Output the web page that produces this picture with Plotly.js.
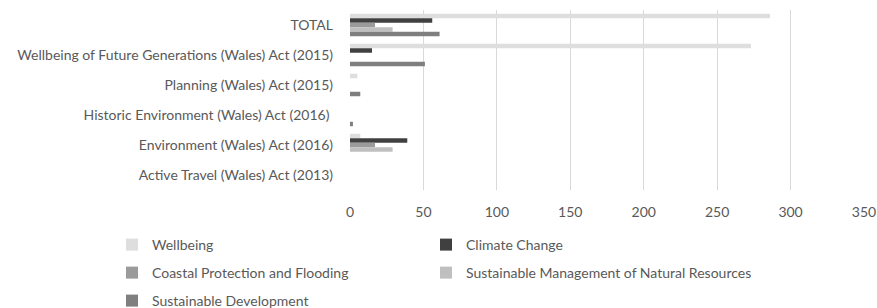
<!DOCTYPE html>
<html>
<head>
<meta charset="utf-8">
<script src="https://cdn.plot.ly/plotly-3.0.1.min.js"></script>
<style>html,body{margin:0;padding:0;background:#fff;}#chart{width:877px;height:308px;}</style>
</head>
<body>
<div id="chart"></div>
<script>
const categories = [
  "TOTAL",
  "Wellbeing of Future Generations (Wales) Act (2015)",
  "Planning (Wales) Act (2015)",
  "Historic Environment (Wales) Act (2016)\u00a0",
  "Environment (Wales) Act (2016)",
  "Active Travel (Wales) Act (2013)"
];
const seriesNames = [
  "Wellbeing",
  "Climate Change",
  "Coastal Protection and Flooding",
  "Sustainable Management of Natural Resources",
  "Sustainable Development"
];
const wellbeing = [286, 273, 5, 0, 7, 0];
const climateChange = [56, 15, 0, 0, 39, 0];
const coastalProtection = [17, 0, 0, 0, 17, 0];
const sustainableManagement = [29, 0, 0, 0, 29, 0];
const sustainableDevelopment = [61, 51, 7, 2, 0, 0];
const xTicks = [0, 50, 100, 150, 200, 250, 300, 350];

const seriesValues = [wellbeing, climateChange, coastalProtection, sustainableManagement, sustainableDevelopment];
const colors = ["#dedede", "#404040", "#9b9b9b", "#bfbfbf", "#7f7f7f"];
const legendIds = ["legend", "legend2", "legend3", "legend4", "legend5"];

const traces = seriesNames.map((name, i) => ({
  type: "bar",
  orientation: "h",
  name: name,
  x: seriesValues[i],
  y: categories,
  marker: {color: colors[i]},
  legend: legendIds[i],
  hoverinfo: "x+name"
}));

const font = {family: "Lato, 'Open Sans', sans-serif", size: 14, color: "#595959"};
function legendAt(textLeftPx, centerYPx) {
  return {
    orientation: "h",
    xref: "container", yref: "container",
    x: (textLeftPx - 40) / 877, xanchor: "left",
    y: 1 - centerYPx / 308, yanchor: "middle",
    font: font,
    bgcolor: "rgba(0,0,0,0)",
    itemclick: false, itemdoubleclick: false
  };
}

const layout = {
  width: 877, height: 308,
  margin: {l: 350, r: 13, t: 10, b: 118, pad: 0},
  paper_bgcolor: "#ffffff",
  plot_bgcolor: "#ffffff",
  font: font,
  barmode: "group",
  bargap: 0.25,
  bargroupgap: 0,
  xaxis: {
    range: [0, 350],
    tickvals: xTicks,
    ticktext: xTicks.map(String),
    showgrid: true, gridcolor: "#d9d9d9", gridwidth: 1.3,
    zeroline: false, showline: false, ticks: "",
    ticklabelstandoff: 12,
    fixedrange: true
  },
  yaxis: {
    type: "category",
    autorange: "reversed",
    showgrid: false, zeroline: false, showline: false,
    ticks: "", ticklabelstandoff: 16,
    fixedrange: true
  },
  legend: legendAt(152, 245),
  legend2: legendAt(466, 245),
  legend3: legendAt(152, 273),
  legend4: legendAt(466, 273),
  legend5: legendAt(152, 301),
  showlegend: true
};

Plotly.newPlot("chart", traces, layout, {displayModeBar: false});
</script>
</body>
</html>
